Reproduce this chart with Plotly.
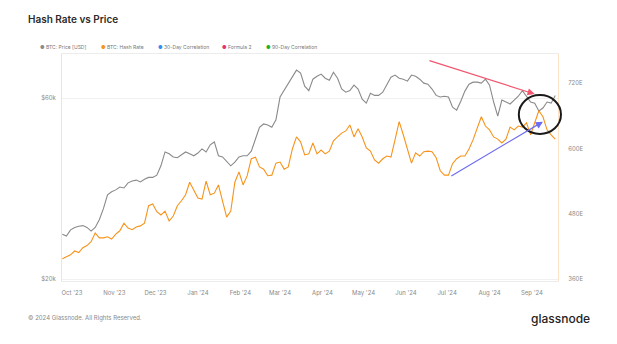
import math
import pandas as pd
import plotly.graph_objects as go

# ---- data (3-day samples, starting 2023-09-24) ----
start_date = "2023-09-24"
step = "3D"

btc_price_usd = [
    26300, 26000, 27000, 27400, 27600, 27700, 27400, 26800, 27400, 28700,
    30700, 33400, 34000, 34400, 35000, 34800, 35900, 36300, 36500, 36100,
    36700, 37100, 37100, 37600, 39800, 43300, 42800, 42000, 41800, 42500,
    43300, 42800, 42300, 43000, 44100, 43300, 45200, 46000, 42300, 42000,
    41000, 39800, 40700, 42000, 42300, 42300, 43500, 47000, 50300, 51300,
    51000, 50300, 52600, 60400, 62800, 65700, 68100, 71100, 69800, 64500,
    62800, 67300, 68500, 69400, 67700, 66900, 70200, 67700, 63400, 62200,
    62800, 64900, 63400, 59600, 58200, 61800, 61000, 61000, 62200, 64900,
    68100, 69000, 67700, 67300, 66500, 69000, 68500, 67300, 65700, 65300,
    63400, 61000, 60400, 60700, 60400, 56800, 55800, 58900, 62600, 65300,
    66100, 66100, 65700, 67300, 64900, 58600, 53800, 59300, 58600, 57900,
    59300, 60700, 62800, 60700, 58600, 58200, 55500, 56500, 58600, 58200,
    61000,
]

btc_hash_rate = [
    398, 401, 405, 412, 409, 418, 422, 429, 445, 436,
    436, 438, 434, 443, 449, 463, 454, 451, 456, 458,
    463, 495, 498, 484, 478, 485, 467, 476, 495, 504,
    515, 538, 524, 509, 507, 540, 515, 518, 533, 504,
    474, 485, 538, 557, 533, 550, 581, 584, 566, 562,
    550, 551, 573, 575, 562, 566, 599, 621, 612, 588,
    590, 610, 590, 597, 590, 595, 614, 621, 628, 632,
    643, 621, 636, 621, 601, 595, 579, 573, 581, 586,
    584, 616, 649, 625, 599, 573, 592, 586, 594, 595,
    594, 583, 559, 551, 551, 572, 581, 586, 586, 599,
    616, 638, 658, 641, 634, 621, 617, 610, 617, 639,
    634, 641, 639, 647, 625, 647, 669, 658, 634, 625,
    617,
]

legend_names = ["BTC: Price [USD]", "BTC: Hash Rate", "30-Day Correlation",
                "Formula 2", "90-Day Correlation"]
legend_colors = ["#8a8a8a", "#f7931a", "#2f8ff0", "#e8336d", "#1fb31f"]

price_ticks = [20000, 60000]
price_tick_text = ["$20k", "$60k"]
hash_ticks = [360, 480, 600, 720]
hash_tick_text = ["360E", "480E", "600E", "720E"]

month_ticks = pd.date_range("2023-10-01", "2024-09-01", freq="MS")
month_text = [d.strftime("%b '%y") for d in month_ticks]

dates = pd.date_range(start_date, periods=len(btc_price_usd), freq=step)

# ---- figure ----
fig = go.Figure()

fig.add_trace(go.Scatter(
    x=dates, y=btc_price_usd, name=legend_names[0], mode="lines",
    line=dict(color=legend_colors[0], width=1.1), yaxis="y",
))
fig.add_trace(go.Scatter(
    x=dates, y=btc_hash_rate, name=legend_names[1], mode="lines",
    line=dict(color=legend_colors[1], width=1.1), yaxis="y2",
))

font_family = "Inter, Roboto, Arial, sans-serif"
tick_font = dict(family=font_family, size=6, color="#8a8a8a")

fig.update_layout(
    width=617, height=344,
    margin=dict(l=62, r=59, t=54, b=63),
    paper_bgcolor="white", plot_bgcolor="white",
    showlegend=False,
    xaxis=dict(
        range=["2023-09-23 18:00", "2024-09-20"],
        tickvals=month_ticks, ticktext=month_text,
        tickfont=tick_font, showgrid=False, ticks="",
        showline=True, linecolor="#ececec", linewidth=1, mirror=True,
        ticklabelstandoff=6, zeroline=False,
    ),
    yaxis=dict(
        type="log",
        range=[math.log10(19800), math.log10(78400)],
        tickvals=price_ticks, ticktext=price_tick_text,
        tickfont=tick_font, showgrid=True, gridcolor="#f1f1f1",
        showline=True, linecolor="#e6e6e6", ticks="",
        ticklabelstandoff=4, zeroline=False,
    ),
    yaxis2=dict(
        overlaying="y", side="right",
        range=[357, 773],
        tickvals=hash_ticks, ticktext=hash_tick_text,
        tickfont=tick_font, showgrid=False,
        showline=True, linecolor="#fde3c8", ticks="",
        ticklabelstandoff=8, zeroline=False,
    ),
)

# title and footer
fig.add_annotation(
    text="Hash Rate vs Price", xref="paper", yref="paper",
    x=-0.0725, y=1.153, xanchor="left", yanchor="middle", showarrow=False,
    font=dict(family=font_family, size=10, color="#2b2b2b", weight=600),
)
fig.add_annotation(
    text="© 2024 Glassnode. All Rights Reserved.", xref="paper", yref="paper",
    x=-0.0725, y=-0.163, xanchor="left", yanchor="middle", showarrow=False,
    font=dict(family=font_family, size=6, color="#8a8a8a"),
)
fig.add_annotation(
    text="glassnode", xref="paper", yref="paper",
    x=1.068, y=-0.163, xanchor="right", yanchor="middle", showarrow=False,
    font=dict(family=font_family, size=12, color="#222222", weight=500),
)

# legend row
legend_x = [-0.048, 0.075, 0.19, 0.319, 0.407]
for name, color, lx in zip(legend_names, legend_colors, legend_x):
    fig.add_annotation(
        text=f"<span style='color:{color}'>●</span> {name}",
        xref="paper", yref="paper", x=lx, y=1.031,
        xanchor="left", yanchor="middle", showarrow=False,
        font=dict(family=font_family, size=5, color="#777777"),
    )

# trend arrows
fig.add_annotation(
    x=pd.Timestamp("2024-09-03"), y=math.log10(61500),
    ax=pd.Timestamp("2024-06-17"), ay=math.log10(75500),
    xref="x", yref="y", axref="x", ayref="y",
    text="", showarrow=True, arrowhead=2, arrowsize=1.2, arrowwidth=1.2,
    arrowcolor="#f2566e", standoff=0,
)
fig.add_annotation(
    x=pd.Timestamp("2024-09-09"), y=649,
    ax=pd.Timestamp("2024-07-03"), ay=548,
    xref="x", yref="y2", axref="x", ayref="y2",
    text="", showarrow=True, arrowhead=2, arrowsize=1.2, arrowwidth=1.2,
    arrowcolor="#6d6cf2", standoff=0,
)

# highlight ellipse around the latest divergence
fig.add_shape(
    type="circle", xref="x domain", yref="y domain",
    x0=0.921, x1=1.006, y0=0.648, y1=0.819,
    line=dict(color="#1a1a1a", width=2),
)

fig.write_html("out.html")
